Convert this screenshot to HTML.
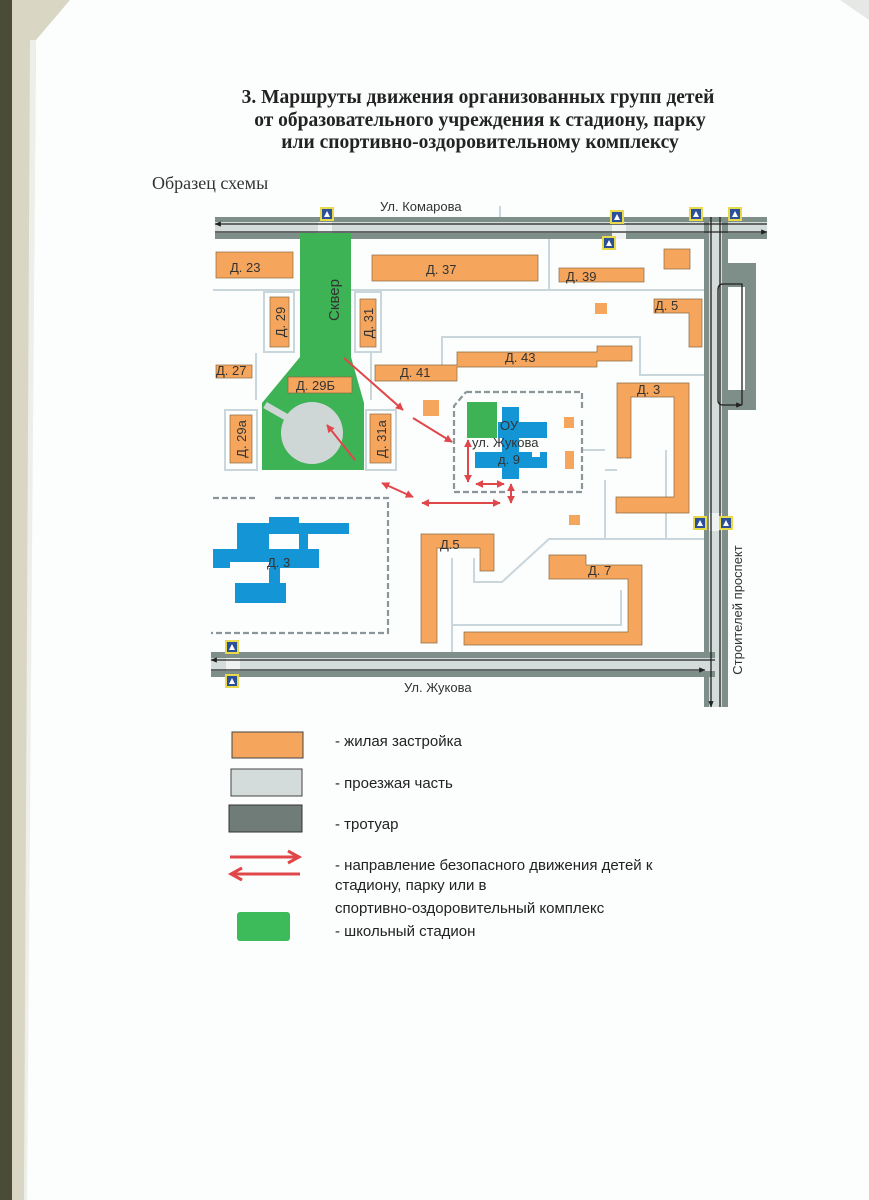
<!DOCTYPE html>
<html><head><meta charset="utf-8"><style>
html,body{margin:0;padding:0;background:#fcfdfd;}
svg{display:block}
</style></head><body>
<svg width="869" height="1200" viewBox="0 0 869 1200" xmlns="http://www.w3.org/2000/svg" font-family="'Liberation Sans', 'DejaVu Sans', sans-serif">
<defs>
<marker id="ah" viewBox="0 0 10 10" refX="9" refY="5" markerWidth="4" markerHeight="4" orient="auto-start-reverse"><path d="M0,0 L10,5 L0,10 z" fill="#e0474a"/></marker>
<marker id="bh" viewBox="0 0 10 10" refX="9" refY="5" markerWidth="5" markerHeight="5" orient="auto"><path d="M0,1 L10,5 L0,9 z" fill="#222"/></marker>
<g id="cw"><rect x="-7" y="-7" width="14" height="14" fill="#e8d94a"/><rect x="-5" y="-5" width="10" height="10" fill="#2c4f9a"/><path d="M-3,3 L0,-3 L3,3 z" fill="#fff"/></g>
</defs>
<rect width="869" height="1200" fill="#fcfdfd"/>
<!-- scan edges -->
<rect x="0" y="0" width="12" height="1200" fill="#4a4c38"/>
<polygon points="12,0 70,0 36,40 26,1200 12,1200" fill="#d9d6c4"/>
<polygon points="30,40 36,40 27,1200 24,1200" fill="#eeeeea"/>
<polygon points="840,0 869,0 869,20" fill="#e6e8e6"/>

<!-- title -->
<g font-family="'Liberation Serif', serif" font-weight="bold" font-size="19.5" fill="#222" text-anchor="middle">
<text x="478" y="103">3. Маршруты движения организованных групп детей</text>
<text x="480" y="126">от образовательного учреждения к стадиону, парку</text>
<text x="480" y="148">или спортивно-оздоровительному комплексу</text>
</g>
<text x="152" y="189" font-family="'Liberation Serif', serif" font-size="18" fill="#333">Образец схемы</text>

<!-- light paths -->
<g stroke="#c9d6dc" stroke-width="2" fill="none">
<line x1="213" y1="290" x2="704" y2="290"/>
<line x1="500" y1="206" x2="500" y2="218"/>
<line x1="549" y1="239" x2="549" y2="290"/>
<rect x="264" y="292" width="30" height="60"/>
<rect x="355" y="292" width="26" height="60"/>
<path d="M442,365 V337 H640 V375 H704"/>
<path d="M660,305 H680"/>
<rect x="225" y="410" width="32" height="60"/>
<rect x="366" y="410" width="30" height="60"/>
<line x1="371" y1="353" x2="371" y2="400"/>
<line x1="256" y1="353" x2="256" y2="400"/>
<path d="M452,558 V658"/>
<path d="M452,625 H621 V590"/>
<path d="M474,558 V582 H502 L549,539 H705"/>
<path d="M605,480 V539 M666,450 V539 M605,470 H617"/>
<path d="M582,450 H605"/>
</g>

<!-- roads -->
<g>
<rect x="215" y="217" width="552" height="22" fill="#7d8f88"/>
<rect x="215" y="222" width="552" height="11" fill="#d3dcda"/>
<rect x="704" y="217" width="24" height="490" fill="#7d8f88"/>
<rect x="709" y="222" width="13" height="485" fill="#d3dcda"/>
<rect x="724" y="263" width="32" height="147" fill="#7d8f88"/>
<rect x="728" y="287" width="17" height="103" fill="#fcfdfd"/>
<rect x="211" y="652" width="504" height="25" fill="#7d8f88"/>
<rect x="211" y="658" width="504" height="13" fill="#d3dcda"/>
<rect x="318" y="222" width="14" height="17" fill="#eef2f1"/>
<rect x="612" y="222" width="14" height="17" fill="#eef2f1"/>
<rect x="226" y="658" width="14" height="13" fill="#eef2f1"/>
<rect x="709" y="513" width="13" height="18" fill="#eef2f1"/>
<g stroke="#222" stroke-width="1.3" fill="none">
<line x1="767" y1="224" x2="215" y2="224" marker-end="url(#bh)"/>
<line x1="215" y1="232" x2="767" y2="232" marker-end="url(#bh)"/>
<line x1="711" y1="217" x2="711" y2="707" marker-end="url(#bh)"/>
<line x1="720" y1="217" x2="720" y2="707"/>
<path d="M735,284 H723 Q718,284 718,290 V400 Q718,405 723,405 H742" marker-end="url(#bh)"/>
<path d="M735,284 H742 V405"/>
<line x1="715" y1="660" x2="211" y2="660" marker-end="url(#bh)"/>
<line x1="211" y1="670" x2="705" y2="670" marker-end="url(#bh)"/>
</g>
<use href="#cw" x="327" y="214"/><use href="#cw" x="327" y="240"/>
<use href="#cw" x="617" y="217"/><use href="#cw" x="609" y="243"/>
<use href="#cw" x="696" y="214"/><use href="#cw" x="735" y="214"/>
<use href="#cw" x="232" y="647"/><use href="#cw" x="232" y="681"/>
<use href="#cw" x="700" y="523"/><use href="#cw" x="726" y="523"/>
</g>

<!-- green square -->
<polygon points="300,233 351,233 351,357 364,403 364,470 262,470 262,403 300,357" fill="#3db356"/>
<line x1="265" y1="405" x2="300" y2="425" stroke="#cfd6d6" stroke-width="7"/>
<circle cx="312" cy="433" r="31" fill="#cfd6d6"/>
<rect x="467" y="402" width="30" height="36" fill="#3db356"/>

<!-- buildings -->
<g fill="#f6a65c" stroke="#8a6a40" stroke-width="0.7">
<rect x="216" y="252" width="77" height="26"/>
<rect x="372" y="255" width="166" height="26"/>
<rect x="559" y="268" width="85" height="14"/>
<rect x="664" y="249" width="26" height="20"/>
<polygon points="654,299 702,299 702,347 689,347 689,313 654,313"/>
<rect x="595" y="303" width="12" height="11" stroke="none"/>
<rect x="270" y="297" width="19" height="50"/>
<rect x="360" y="299" width="16" height="48"/>
<rect x="216" y="365" width="36" height="13"/>
<polygon points="375,365 457,365 457,352 597,352 597,346 632,346 632,361 597,361 597,367 457,367 457,381 375,381"/>
<rect x="288" y="377" width="64" height="16"/>
<polygon points="617,383 689,383 689,513 616,513 616,497 674,497 674,397 631,397 631,458 617,458"/>
<rect x="423" y="400" width="16" height="16" stroke="none"/>
<rect x="564" y="417" width="10" height="11" stroke="none"/>
<rect x="565" y="451" width="9" height="18" stroke="none"/>
<rect x="569" y="515" width="11" height="10" stroke="none"/>
<rect x="230" y="415" width="22" height="48"/>
<rect x="370" y="414" width="21" height="49"/>
<polygon points="421,534 494,534 494,571 480,571 480,548 437,548 437,643 421,643"/>
<polygon points="549,555 586,555 586,565 642,565 642,645 464,645 464,632 628,632 628,579 549,579"/>
</g>

<!-- school -->
<g fill="#1496d6">
<rect x="502" y="407" width="17" height="72"/>
<rect x="498" y="422" width="49" height="16"/>
<rect x="475" y="452" width="72" height="16"/>
</g>
<rect x="532" y="452" width="8" height="5" fill="#fcfdfd"/>
<g stroke="#8a969a" stroke-width="2.2" stroke-dasharray="6,3" fill="none">
<path d="M466,392 H582 V410 M582,420 V492 H522 M505,492 H454 V406 L466,392"/>
<path d="M213,498 H255 M275,498 H388 V633 H211"/>
</g>
<g fill="#1496d6">
<rect x="269" y="517" width="30" height="7"/>
<rect x="237" y="523" width="112" height="11"/>
<rect x="237" y="523" width="32" height="27"/>
<rect x="299" y="523" width="9" height="27"/>
<rect x="213" y="549" width="106" height="19"/>
<rect x="269" y="568" width="11" height="24"/>
<rect x="235" y="583" width="51" height="20"/>
</g>
<rect x="230" y="562" width="40" height="6" fill="#fcfdfd"/>
<rect x="213" y="562" width="17" height="6" fill="#1496d6"/>
<rect x="235" y="568" width="12" height="14" fill="#fcfdfd"/>

<!-- red arrows -->
<g stroke="#e0474a" stroke-width="2" fill="none" marker-start="url(#ah)" marker-end="url(#ah)">
<line x1="344" y1="358" x2="403" y2="410" marker-start="none"/>
<line x1="413" y1="418" x2="452" y2="442" marker-start="none"/>
<line x1="355" y1="460" x2="327" y2="425" marker-start="none"/>
<line x1="468" y1="440" x2="468" y2="482"/>
<line x1="476" y1="484" x2="504" y2="484"/>
<line x1="511" y1="484" x2="511" y2="503"/>
<line x1="382" y1="483" x2="413" y2="497"/>
<line x1="422" y1="503" x2="500" y2="503"/>
</g>

<!-- map labels -->
<g fill="#333" font-size="13">
<text x="380" y="211">Ул. Комарова</text>
<text x="230" y="272">Д. 23</text>
<text x="426" y="274">Д. 37</text>
<text x="566" y="281">Д. 39</text>
<text x="655" y="310">Д. 5</text>
<text x="216" y="375">Д. 27</text>
<text x="400" y="377">Д. 41</text>
<text x="505" y="362">Д. 43</text>
<text x="296" y="390">Д. 29Б</text>
<text x="637" y="394">Д. 3</text>
<text x="500" y="430">ОУ</text>
<text x="472" y="447">ул. Жукова</text>
<text x="498" y="464">д. 9</text>
<text x="267" y="567">Д. 3</text>
<text x="440" y="549">Д.5</text>
<text x="588" y="575">Д. 7</text>
<text x="404" y="692">Ул. Жукова</text>
<text transform="translate(285,322) rotate(-90)" text-anchor="middle">Д. 29</text>
<text transform="translate(373,323) rotate(-90)" text-anchor="middle">Д. 31</text>
<text transform="translate(246,439) rotate(-90)" text-anchor="middle">Д. 29а</text>
<text transform="translate(386,439) rotate(-90)" text-anchor="middle">Д. 31а</text>
<text transform="translate(339,300) rotate(-90)" text-anchor="middle" font-size="15">Сквер</text>
<text transform="translate(742,610) rotate(-90)" text-anchor="middle" font-size="13">Строителей проспект</text>
</g>

<!-- legend -->
<rect x="232" y="732" width="71" height="26" fill="#f6a65c" stroke="#444" stroke-width="1"/>
<rect x="231" y="769" width="71" height="27" fill="#d3dcda" stroke="#444" stroke-width="1"/>
<rect x="229" y="805" width="73" height="27" fill="#6f7c78" stroke="#333" stroke-width="1"/>
<g stroke="#e0474a" stroke-width="3" fill="none">
<line x1="230" y1="857" x2="296" y2="857"/><path d="M288,851 L299,857 L288,863"/>
<line x1="234" y1="874" x2="300" y2="874"/><path d="M242,868 L231,874 L242,880"/>
</g>
<rect x="237" y="912" width="53" height="29" rx="3" fill="#3dbb5a"/>
<g fill="#222" font-size="15">
<text x="335" y="746">- жилая застройка</text>
<text x="335" y="788">- проезжая часть</text>
<text x="335" y="829">- тротуар</text>
<text x="335" y="870">- направление безопасного движения детей к</text>
<text x="335" y="890">стадиону, парку или в</text>
<text x="335" y="913">спортивно-оздоровительный комплекс</text>
<text x="335" y="936">- школьный стадион</text>
</g>
</svg>
</body></html>
